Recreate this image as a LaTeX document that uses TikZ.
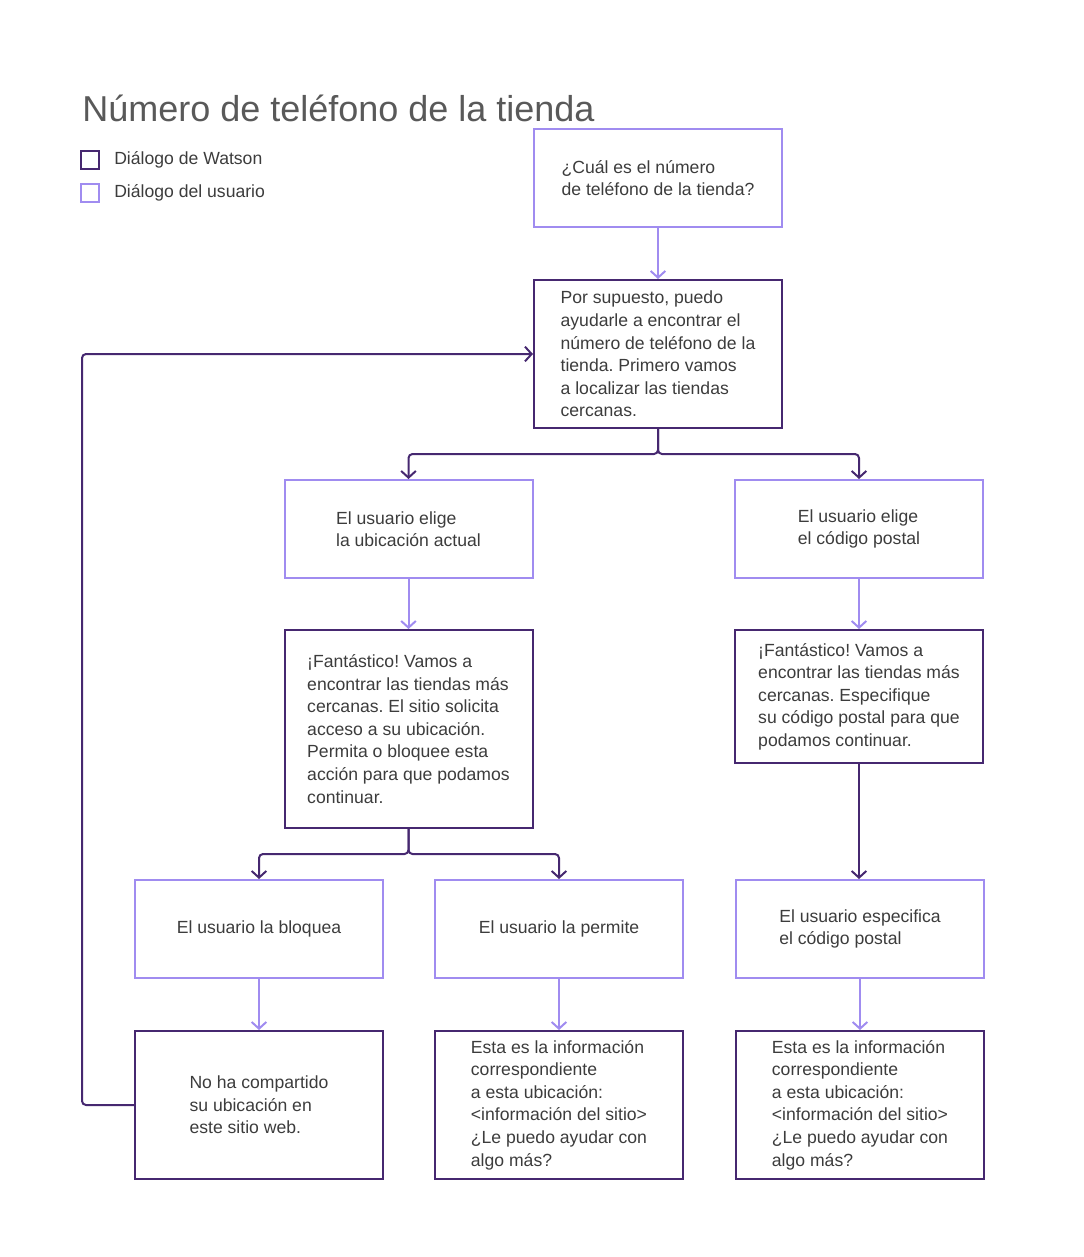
\documentclass[tikz,border=0pt]{standalone}
\usepackage{fontspec}
\setmainfont{Liberation Sans}
\frenchspacing
\usepackage{tikz}
\usetikzlibrary{positioning,arrows.meta}

\definecolor{watsoncol}{RGB}{70,40,112}
\definecolor{usercol}{RGB}{160,140,240}
\definecolor{textcol}{RGB}{60,60,60}

\tikzset{
    caja/.style={draw, line width=1.5pt, minimum width=186pt, align=left, text=textcol,
      font=\fontsize{13.2}{16.9}\selectfont},
    watson/.style={caja, draw=watsoncol},
    usuario/.style={caja, draw=usercol, minimum height=73.5pt},
    flecha/.style={line width=1.5pt, rounded corners=3pt, -{Straight Barb[length=5pt,width=11pt]}},
}

\begin{document}
\begin{tikzpicture}[x=0.75pt, y=-0.75pt]
    \useasboundingbox (0,0) rectangle (1083,1257);

    \node[anchor=base west, inner sep=0, text=black!65, font=\fontsize{27}{32}\selectfont] (titulo) at (82,121) {Número de teléfono de la tienda};
    \node[watson, minimum width=13.5pt, minimum height=13.5pt] (legw) at (90,160) {};
    \node[usuario, minimum width=13.5pt, minimum height=13.5pt] (legu) at (90,193) {};
    \node[right = 10.5pt of legw, inner sep=0, text=textcol, font=\fontsize{13.2}{16}\selectfont] {Diálogo de Watson};
    \node[right = 10.5pt of legu, inner sep=0, text=textcol, font=\fontsize{13.2}{16}\selectfont] {Diálogo del usuario};

    \node[usuario] (q) at (658,178) {¿Cuál es el número\\de teléfono de la tienda?};
    \node[watson, minimum height=111pt] (w1) at (658,354) {Por supuesto, puedo\\ayudarle a encontrar el\\número de teléfono de la\\tienda. Primero vamos\\a localizar las tiendas\\cercanas.};
    \node[usuario] (u1) at (408.5,529) {El usuario elige\\la ubicación actual};
    \node[usuario] (u2) at (859,529) {El usuario elige\\el código postal};
    \node[watson, minimum height=148.5pt] (w2) at (408.5,729) {¡Fantástico! Vamos a\\encontrar las tiendas más\\cercanas. El sitio solicita\\acceso a su ubicación.\\Permita o bloquee esta\\acción para que podamos\\continuar.};
    \node[watson, minimum height=99.75pt] (w3) at (859,696.5) {¡Fantástico! Vamos a\\encontrar las tiendas más\\cercanas. Especifique\\su código postal para que\\podamos continuar.};
    \node[usuario] (u3) at (259,929) {El usuario la bloquea};
    \node[usuario] (u4) at (559,929) {El usuario la permite};
    \node[usuario] (u5) at (860,929) {El usuario especifica\\el código postal};
    \node[watson, minimum height=111pt] (w4) at (259,1105) {No ha compartido\\su ubicación en\\este sitio web.};
    \node[watson, minimum height=111pt] (w5) at (559,1105) {Esta es la información\\correspondiente\\a esta ubicación:\\<información del sitio>\\¿Le puedo ayudar con\\algo más?};
    \node[watson, minimum height=111pt] (w6) at (860,1105) {Esta es la información\\correspondiente\\a esta ubicación:\\<información del sitio>\\¿Le puedo ayudar con\\algo más?};

    % user replies
    \foreach \a/\b in {q/w1, u1/w2, u2/w3, u3/w4, u4/w5, u5/w6}{
      \draw[flecha, usercol] (\a.south) -- (\b.north);
       }
    % watson answers
    \foreach \a/\b in {w1/u1, w1/u2, w2/u3, w2/u4}{
      \draw[flecha, watsoncol] (\a.south) -- ++(0,25) -| (\b.north);
       }
    \draw[flecha, watsoncol] (w3.south) -- (w3.south |- u5.north);
    \draw[flecha, watsoncol] (w4.west) -- ++(-52,0) |- (w1.west);

  \end{tikzpicture}
\end{document}
